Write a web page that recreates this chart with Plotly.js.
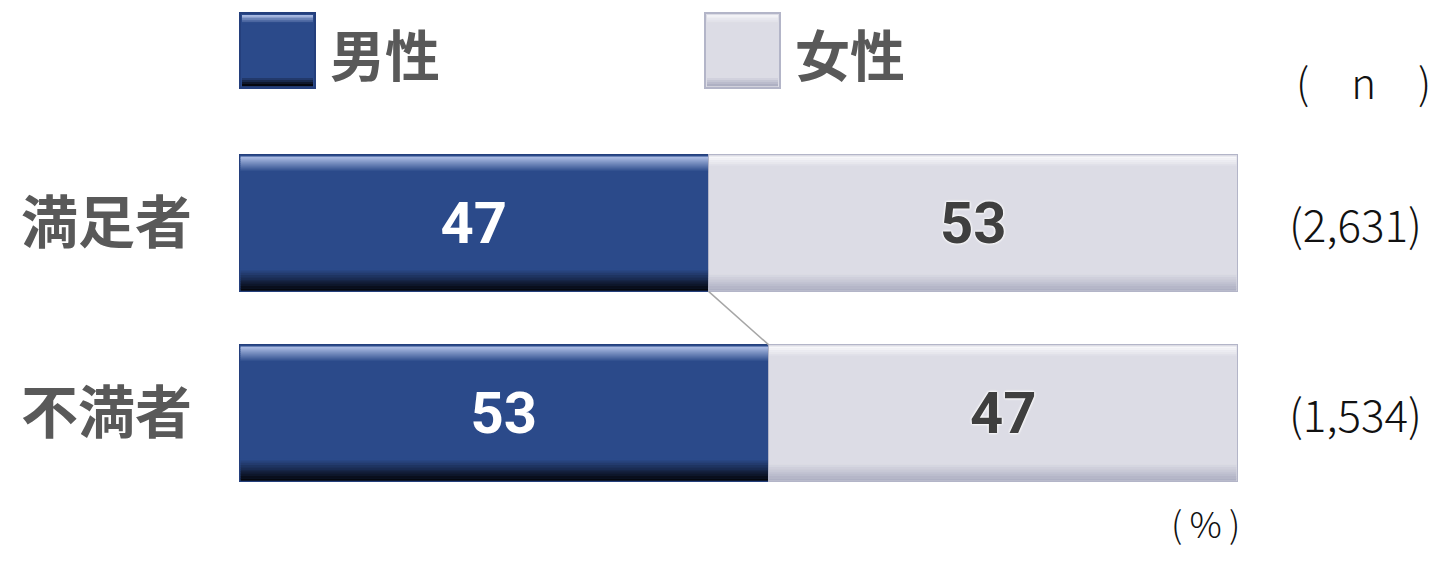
<!DOCTYPE html>
<html>
<head>
<meta charset="utf-8">
<script src="https://cdn.plot.ly/plotly-3.0.1.min.js"></script>
<style>
  html, body { margin: 0; padding: 0; background: #fff; }
  #chart { width: 1450px; height: 567px; }
</style>
</head>
<body>
<div id="chart"></div>
<script>
// data
var categories = ['満足者', '不満者'];
var male = [47, 53];
var female = [53, 47];
var nLabels = ['(2,631)', '(1,534)'];
var seriesNames = ['男性', '女性'];

var W = 1450, H = 567;
var M = { l: 239, r: 212, t: 128, b: 59 };
var plotW = W - M.l - M.r, plotH = H - M.t - M.b;
var catPx = plotH / categories.length;
var barFrac = 0.72;

var maleCol = '#2B4A8A', maleLine = '#243F7C';
var femCol = '#DCDCE5', femLine = '#B3B5C8';
var jp = '"Noto Sans CJK JP", "Noto Sans", sans-serif';

// pixel -> paper helpers for things outside the plot
function xp(px) { return (px - M.l) / plotW; }
function yp(py) { return (M.t + plotH - py) / plotH; }

function hex(c) { return [1, 3, 5].map(function (i) { return parseInt(c.substr(i, 2), 16); }); }
function mix(a, b, t) {
  var A = hex(a), B = hex(b);
  return 'rgb(' + A.map(function (v, i) { return Math.round(v + (B[i] - v) * t); }).join(',') + ')';
}

// thin stripes faking the glossy gradient
function stripes(xref, yref, x0, x1, yA, yB, cA, cB, n) {
  var out = [];
  for (var k = 0; k < n; k++) {
    out.push({
      type: 'rect', xref: xref, yref: yref, layer: 'above',
      x0: x0, x1: x1,
      y0: yA + (yB - yA) * k / n, y1: yA + (yB - yA) * (k + 1.15) / n,
      fillcolor: mix(cA, cB, k / (n - 1)), line: { width: 0 }
    });
  }
  return out;
}

var shapes = [];
var half = barFrac / 2;
var unit = 1 / catPx; // one pixel in category units
categories.forEach(function (c, i) {
  var top = i - half + 2 * unit, bot = i + half - 1 * unit;
  // male
  shapes = shapes.concat(stripes('x', 'y', 0.15, male[i] - 0.05, top, top + 16 * unit, '#A9BAE2', maleCol, 8));
  shapes = shapes.concat(stripes('x', 'y', 0.15, male[i] - 0.05, bot - 22 * unit, bot, maleCol, '#05070E', 10));
  // female
  shapes = shapes.concat(stripes('x', 'y', male[i] + 0.05, 99.85, top, top + 11 * unit, '#F7F7FA', femCol, 6));
  shapes = shapes.concat(stripes('x', 'y', male[i] + 0.05, 99.85, bot - 18 * unit, bot, femCol, '#AEB0C3', 8));
});

// connector between the two male bars
shapes.push({
  type: 'line', xref: 'x', yref: 'y',
  x0: male[0], y0: 0 + half, x1: male[1], y1: 1 - half,
  line: { color: '#A6A6A6', width: 1.5 }
});

// legend boxes
var legX = [240, 705];
var legCols = [[maleCol, maleLine, '#A9BAE2', '#05070E'], [femCol, femLine, '#F2F2F6', '#AEB0C3']];
legX.forEach(function (lx, j) {
  var cs = legCols[j];
  shapes.push({
    type: 'rect', xref: 'paper', yref: 'paper', layer: 'above',
    x0: xp(lx), x1: xp(lx + 75), y0: yp(88), y1: yp(13),
    fillcolor: cs[0], line: { color: cs[1], width: 2 }
  });
  shapes = shapes.concat(stripes('paper', 'paper', xp(lx + 2), xp(lx + 73), yp(15), yp(24), cs[2], cs[0], 5));
  shapes = shapes.concat(stripes('paper', 'paper', xp(lx + 2), xp(lx + 73), yp(76), yp(86), cs[0], cs[3], 5));
});

var annotations = [];
seriesNames.forEach(function (s, j) {
  annotations.push({
    text: '<b>' + s + '</b>', xref: 'paper', yref: 'paper',
    x: xp(legX[j] + 88), y: yp(52), xanchor: 'left', yanchor: 'middle', showarrow: false,
    font: { family: jp, size: 55, color: '#595959' }
  });
});
nLabels.forEach(function (n, i) {
  annotations.push({
    text: n, xref: 'paper', yref: 'y',
    x: xp(1287), y: i, xanchor: 'left', yanchor: 'middle', showarrow: false,
    font: { family: jp, size: 44, color: '#111', weight: 300 }
  });
});
annotations.push({
  text: '(　n　)', xref: 'paper', yref: 'paper',
  x: xp(1294), y: yp(80), xanchor: 'left', yanchor: 'middle', showarrow: false,
  font: { family: jp, size: 42, color: '#111', weight: 300 }
});
annotations.push({
  text: '(\u2009%\u2009)', xref: 'paper', yref: 'paper',
  x: xp(1242), y: yp(522), xanchor: 'right', yanchor: 'middle', showarrow: false,
  font: { family: jp, size: 36, color: '#111', weight: 300 }
});

var data = [
  {
    type: 'bar', orientation: 'h', name: seriesNames[0],
    y: categories, x: male, text: male.map(String),
    textposition: 'inside', insidetextanchor: 'middle',
    textfont: { family: 'Roboto, "Liberation Sans", sans-serif', size: 58, color: '#ffffff', weight: 'bold' },
    marker: { color: maleCol, line: { color: maleLine, width: 1.5 } },
    width: barFrac, hoverinfo: 'skip'
  },
  {
    type: 'bar', orientation: 'h', name: seriesNames[1],
    y: categories, x: female, text: female.map(String),
    textposition: 'inside', insidetextanchor: 'middle',
    textfont: {
      family: 'Roboto, "Liberation Sans", sans-serif', size: 58, color: '#3F3F3F', weight: 'bold',
      shadow: '0 0 3px #fff, 0 0 3px #fff, 0 0 2px #fff'
    },
    marker: { color: femCol, line: { color: femLine, width: 1.5 } },
    width: barFrac, hoverinfo: 'skip'
  }
];

var layout = {
  width: W, height: H,
  margin: M,
  barmode: 'stack',
  showlegend: false,
  paper_bgcolor: '#fff', plot_bgcolor: '#fff',
  xaxis: { range: [0, 100], visible: false, fixedrange: true },
  yaxis: {
    range: [1.5, -0.5], type: 'category', fixedrange: true,
    showgrid: false, zeroline: false, showline: false, ticks: '',
    ticklabelstandoff: 46,
    tickfont: { family: jp, size: 57, color: '#595959', weight: 'bold' }
  },
  shapes: shapes,
  annotations: annotations,
  hovermode: false
};

Plotly.newPlot('chart', data, layout, { displayModeBar: false, staticPlot: true });
</script>
</body>
</html>
